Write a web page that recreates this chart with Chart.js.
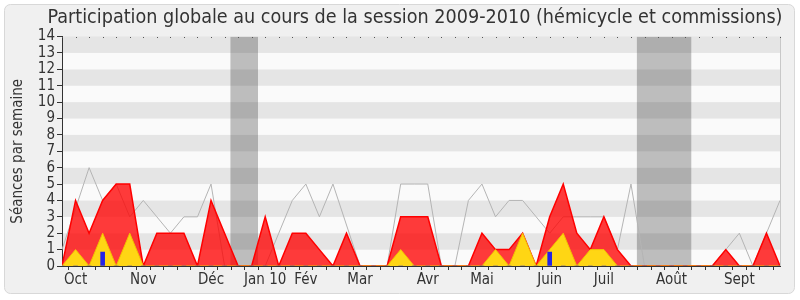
<!DOCTYPE html>
<html><head><meta charset="utf-8">
<script src="https://cdn.jsdelivr.net/npm/chart.js@4.4.1/dist/chart.umd.min.js"></script>
<style>html,body{margin:0;padding:0;background:#fff}canvas{display:block}</style>
</head><body>
<canvas id="c" width="800" height="300" style="width:800px;height:300px"></canvas>
<script>
// Week tick labels (one entry per week of the session, Oct 2009 -> Sept 2010)
const weekLabels = ['', 'Oct', '', '', '', '', 'Nov', '', '', '', '',
  'Déc', '', '', '', 'Jan 10', '', '', 'Fév', '', '', '',
  'Mar', '', '', '', '', 'Avr', '', '', '', 'Mai', '', '', '', '',
  'Juin', '', '', '', 'Juil', '', '', '', '', 'Août', '', '', '', '',
  'Sept', '', '', ''];

// Présences (hémicycle + commissions) per week
const presences = [0, 4, 2, 4, 5, 5, 0, 2, 2, 2, 0, 4, 2, 0, 0, 3, 0, 2, 2, 1,
  0, 2, 0, 0, 0, 3, 3, 3, 0, 0, 0, 2, 1, 1, 2, 0, 3, 5, 2, 1,
  3, 1, 0, 0, 0, 0, 0, 0, 0, 1, 0, 0, 2, 0];

// Interventions per week
const interventions = [0, 1, 0, 2, 0, 2, 0, 0, 0, 0, 0, 0, 0, 0, 0, 0, 0, 0, 0, 0,
  0, 0, 0, 0, 0, 1, 0, 0, 0, 0, 0, 0, 1, 0, 2, 0, 1, 2, 0, 1,
  1, 0, 0, 0, 0, 0, 0, 0, 0, 0, 0, 0, 0, 0];

// Questions orales per week
const questions = [0, 0, 0, 0.85, 0, 0, 0, 0, 0, 0, 0, 0, 0, 0, 0, 0, 0, 0, 0, 0,
  0, 0, 0, 0, 0, 0, 0, 0, 0, 0, 0, 0, 0, 0, 0, 0, 0.85, 0, 0, 0,
  0, 0, 0, 0, 0, 0, 0, 0, 0, 0, 0, 0, 0, 0];

// Médiane des députés per week
const mediane = [1, 3.5, 6, 4, 5, 3, 4, 3, 2, 3, 3, 5, 0, 0, 0, 0, 2, 4, 5, 3,
  5, 2.5, 0, 0, 0, 5, 5, 5, 0, 0, 4, 5, 3, 4, 4, 3, 2, 3, 3, 3,
  3, 1, 5, 0, 0, 0, 0, 0, 0, 1, 2, 0, 2, 4];

// Vacances parlementaires (in weeks)
const vacStart = [12.42, 42.42];
const vacEnd = [14.47, 46.47];

const yMax = 14;
const TXT = '#333333';
const baseFont = {family: 'DejaVu Sans Condensed', size: 15};

const pts = arr => arr.map((v, i) => ({x: i, y: v}));

const deco = {
  id: 'deco',
  afterLayout(chart) {
    const t = chart.titleBlock;
    if (t) { t.left += 25; t.right += 25; }
  },
  beforeDraw(chart) {
    const {ctx, chartArea: a, scales: {y}} = chart;
    ctx.save();
    ctx.fillStyle = '#ffffff';
    ctx.fillRect(0, 0, chart.width, chart.height);
    ctx.beginPath();
    ctx.roundRect(4.5, 4.5, 790, 289, 6);
    ctx.fillStyle = '#f0f0f0';
    ctx.fill();
    ctx.strokeStyle = '#d8d8d8';
    ctx.lineWidth = 1;
    ctx.stroke();
    for (let k = 0; k < yMax; k++) {
      const y0 = y.getPixelForValue(k), y1 = y.getPixelForValue(k + 1);
      ctx.fillStyle = (k % 2) ? '#e5e5e5' : '#fafafa';
      ctx.fillRect(a.left, y1, a.right - a.left, y0 - y1);
    }
    ctx.restore();
  },
  afterDatasetsDraw(chart) {
    const {ctx, chartArea: a, scales: {x}} = chart;
    ctx.save();
    ctx.strokeStyle = '#c8c8c8';
    ctx.beginPath();
    ctx.moveTo(Math.round(a.right) + 0.5, a.top);
    ctx.lineTo(Math.round(a.right) + 0.5, a.bottom);
    ctx.stroke();
    ctx.fillStyle = '#555';
    weekLabels.forEach((_, i) => {
      const px = Math.round(x.getPixelForValue(i));
      ctx.fillRect(px, Math.round(a.top), 1, 1);
    });
    ctx.restore();
  }
};

const vacDatasets = vacStart.map((s, k) => ({
  type: 'line',
  data: [{x: s, y: yMax}, {x: vacEnd[k], y: yMax}],
  fill: 'origin',
  backgroundColor: 'rgba(40,40,40,0.29)',
  borderWidth: 0,
  pointRadius: 0,
  order: 5
}));

new Chart(document.getElementById('c'), {
  type: 'line',
  data: {
    datasets: [
      ...vacDatasets,
      {
        data: pts(mediane),
        borderColor: '#b4b4b4',
        borderWidth: 1,
        pointRadius: 0,
        fill: false,
        tension: 0,
        order: 4
      },
      {
        data: pts(presences),
        borderColor: '#ff0000',
        borderWidth: 1.5,
        backgroundColor: 'rgba(255,0,0,0.77)',
        pointRadius: 0,
        fill: 'origin',
        tension: 0,
        order: 3
      },
      {
        data: pts(interventions),
        borderColor: '#f2c200',
        borderWidth: 1,
        backgroundColor: '#ffd614',
        pointRadius: 0,
        fill: 'origin',
        tension: 0,
        order: 2
      },
      {
        type: 'bar',
        data: pts(questions),
        backgroundColor: '#2424e6',
        borderWidth: 0,
        barThickness: 4,
        order: 1
      }
    ]
  },
  options: {
    responsive: false,
    animation: false,
    devicePixelRatio: 1,
    layout: {padding: {left: 0, right: 20, top: 0, bottom: 0}},
    plugins: {
      legend: {display: false},
      tooltip: {enabled: false},
      title: {
        display: true,
        text: 'Participation globale au cours de la session 2009-2010 (hémicycle et commissions)',
        color: TXT,
        font: {family: 'DejaVu Sans Condensed', size: 19.6, weight: 'normal'},
        padding: {top: 6.5, bottom: 6.5}
      }
    },
    scales: {
      x: {
        type: 'linear',
        min: 0,
        max: weekLabels.length - 1,
        offset: false,
        afterFit: s => { s.height = 34; },
        ticks: {
          stepSize: 1,
          autoSkip: false,
          maxRotation: 0,
          padding: 1,
          color: TXT,
          font: baseFont,
          callback: v => weekLabels[v] ?? ''
        },
        grid: {drawOnChartArea: false, drawTicks: true, tickLength: 4, tickColor: '#333', color: '#333'},
        border: {color: '#333', width: 1}
      },
      y: {
        min: 0,
        max: yMax,
        afterFit: s => { s.width = 62; },
        ticks: {stepSize: 1, autoSkip: false, padding: 2, color: TXT, font: baseFont},
        grid: {drawOnChartArea: false, drawTicks: true, tickLength: 5, tickColor: '#333', color: '#333'},
        border: {color: '#333', width: 1},
        title: {
          display: true,
          text: 'Séances par semaine',
          color: TXT,
          font: baseFont,
          padding: {top: 9, bottom: 0}
        }
      }
    }
  },
  plugins: [deco]
});
</script>
</body></html>
